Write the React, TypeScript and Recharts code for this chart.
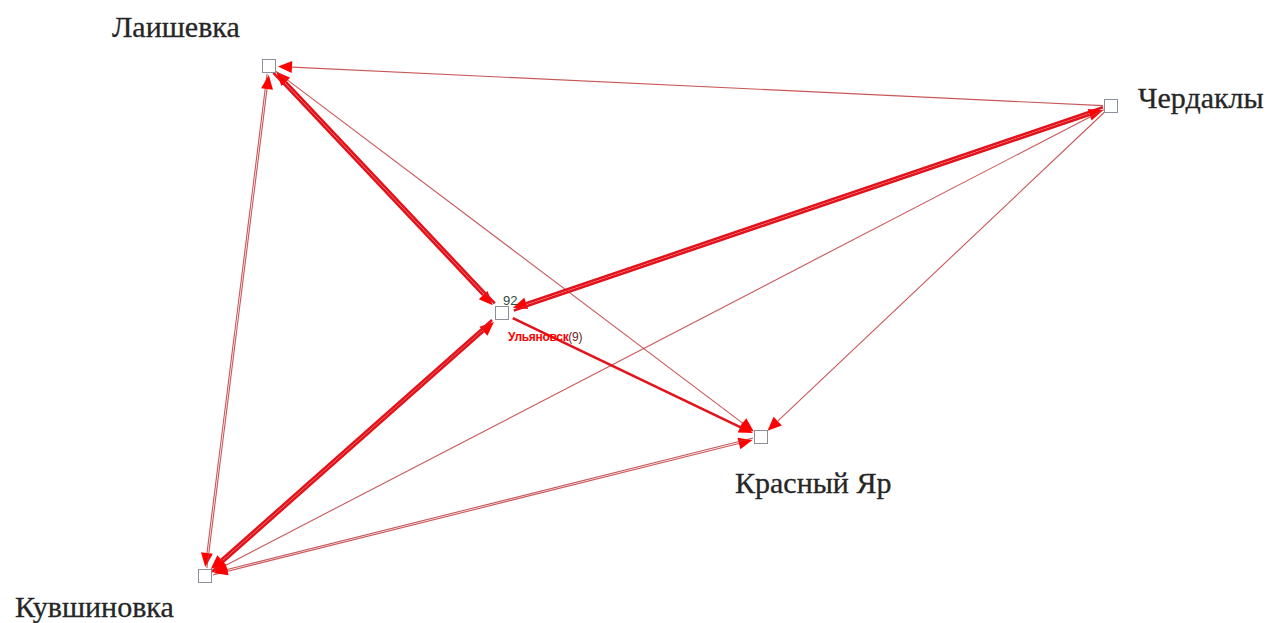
import { ComposedChart, XAxis, YAxis, Scatter, ReferenceLine } from 'recharts';

// nodes (positions, in the chart's own units)
const nodeNames = ['Лаишевка', 'Чердаклы', 'Красный Яр', 'Кувшиновка', 'Ульяновск'];
const nodeX = [269, 1111, 761, 205, 502];
const nodeY = [66, 106, 437, 576, 313];
const nodeTags = ['', '', '', '', '92'];
const nodeCounts = ['', '', '', '', '(9)'];

// directed links: from -> to, weight
const edgeFrom = ['Чердаклы', 'Лаишевка', 'Кувшиновка', 'Лаишевка', 'Ульяновск', 'Лаишевка', 'Чердаклы', 'Ульяновск', 'Чердаклы', 'Чердаклы', 'Кувшиновка', 'Ульяновск', 'Кувшиновка', 'Красный Яр', 'Ульяновск'];
const edgeTo = ['Лаишевка', 'Кувшиновка', 'Лаишевка', 'Ульяновск', 'Лаишевка', 'Красный Яр', 'Ульяновск', 'Чердаклы', 'Красный Яр', 'Кувшиновка', 'Ульяновск', 'Кувшиновка', 'Красный Яр', 'Кувшиновка', 'Красный Яр'];
const edgeWeight = [1, 1, 1, 3, 3, 1, 3, 3, 1, 1, 3, 3, 1, 1, 3];

const nodes = nodeNames.map((name, i) => ({
  name,
  x: nodeX[i],
  y: nodeY[i],
  tag: nodeTags[i],
  count: nodeCounts[i],
}));

const find = (n: string) => nodes.find((d) => d.name === n)!;

const labelPos: Record<string, [number, number]> = {
  'Лаишевка': [-157, -29],
  'Чердаклы': [27, 2],
  'Красный Яр': [-26, 56],
  'Кувшиновка': [-190, 41],
};

const hasReverse = (i: number) =>
  edgeFrom.some((f, j) => j !== i && f === edgeTo[i] && edgeTo[j] === edgeFrom[i]);

const edgeShape = (i: number) => (props: any) => {
  const { x1, y1, x2, y2 } = props;
  const dx = x2 - x1;
  const dy = y2 - y1;
  const len = Math.hypot(dx, dy) || 1;
  const ux = dx / len;
  const uy = dy / len;
  const nx = -uy;
  const ny = ux;
  const thick = edgeWeight[i] > 1;
  const off = hasReverse(i) ? (thick ? 1.4 : 0.9) : 0;
  const startGap = edgeFrom[i] === 'Ульяновск' ? 12 : 8;
  const endGap = edgeTo[i] === 'Ульяновск' ? 12 : 9;
  const sx = x1 + ux * startGap + nx * off;
  const sy = y1 + uy * startGap + ny * off;
  const tx = x2 - ux * endGap + nx * off;
  const ty = y2 - uy * endGap + ny * off;
  const al = 14;
  const aw = 6;
  const bx = tx - ux * al;
  const by = ty - uy * al;
  return (
    <g>
      <line
        x1={sx}
        y1={sy}
        x2={bx}
        y2={by}
        stroke={thick ? '#e3121b' : '#c0393c'}
        strokeWidth={thick ? 2.6 : 1.1}
        strokeOpacity={thick ? 1 : 0.85}
      />
      <polygon
        points={`${tx},${ty} ${bx + nx * aw},${by + ny * aw} ${bx - nx * aw},${by - ny * aw}`}
        fill="#ff0000"
      />
    </g>
  );
};

const renderNode = (props: any) => {
  const { cx, cy, payload } = props;
  const lp = labelPos[payload.name];
  return (
    <g>
      <rect x={cx - 6.5} y={cy - 6.5} width={13} height={13} fill="#fff" stroke="#8a8f99" strokeWidth={1} />
      {lp && (
        <text
          x={cx + lp[0]}
          y={cy + lp[1]}
          fontFamily="'Liberation Serif', serif"
          fontSize={30}
          fill="#262626"
          stroke="#262626"
          strokeWidth={0.3}
        >
          {payload.name}
        </text>
      )}
      {payload.tag && (
        <text x={cx + 1} y={cy - 8} fontFamily="Arial, sans-serif" fontSize={13} fill="#2e4a3b">
          {payload.tag}
        </text>
      )}
      {payload.count && (
        <text x={cx + 6} y={cy + 28} fontFamily="Arial, sans-serif" fontSize={12} letterSpacing={-0.3}>
          <tspan fontWeight="bold" fill="#ff0000">
            {payload.name}
          </tspan>
          <tspan fill="#6b2525">{payload.count}</tspan>
        </text>
      )}
    </g>
  );
};

export default function App() {
  return (
    <div style={{ position: 'absolute', left: 0, top: 0, background: '#fff' }}>
      <ComposedChart width={1274} height={623} margin={{ top: 0, right: 0, bottom: 0, left: 0 }}>
        <XAxis type="number" dataKey="x" domain={[0, 1274]} hide />
        <YAxis type="number" dataKey="y" domain={[0, 623]} reversed hide />
        {edgeFrom.map((f, i) => {
          const a = find(f);
          const b = find(edgeTo[i]);
          return (
            <ReferenceLine
              key={i}
              segment={[
                { x: a.x, y: a.y },
                { x: b.x, y: b.y },
              ]}
              ifOverflow="visible"
              shape={edgeShape(i)}
            />
          );
        })}
        <Scatter data={nodes} dataKey="y" shape={renderNode} isAnimationActive={false} />
      </ComposedChart>
    </div>
  );
}
